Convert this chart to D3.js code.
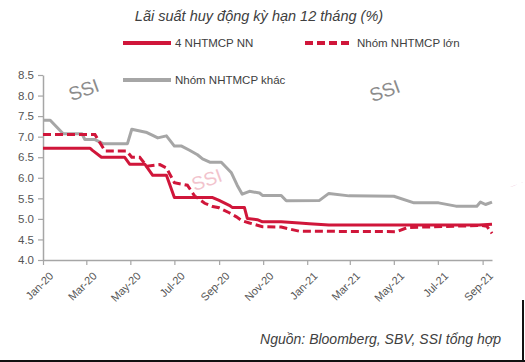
<!DOCTYPE html>
<html>
<head>
<meta charset="utf-8">
<script src="https://cdn.jsdelivr.net/npm/d3@7"></script>
<style>
  html, body { margin: 0; padding: 0; background: #fff; }
  svg { display: block; }
  text { font-family: "Liberation Sans", Arial, sans-serif; }
</style>
</head>
<body>
<script>
// ---- Data ----
const titleText = "Lãi suất huy động kỳ hạn 12 tháng (%)";
const sourceText = "Nguồn:  Bloomberg, SBV, SSI tổng hợp";
const seriesNames = ["4 NHTMCP NN", "Nhóm NHTMCP lớn", "Nhóm NHTMCP khác"];
const yTicks = [4.0, 4.5, 5.0, 5.5, 6.0, 6.5, 7.0, 7.5, 8.0, 8.5];
const xTickLabels = ["Jan-20","Mar-20","May-20","Jul-20","Sep-20","Nov-20","Jan-21","Mar-21","May-21","Jul-21","Sep-21"];
const xTickDates = ["2020-01-01","2020-03-01","2020-05-01","2020-07-01","2020-09-01","2020-11-01","2021-01-01","2021-03-01","2021-05-01","2021-07-01","2021-09-01"];

// 4 NHTMCP NN (solid red)
const nnDates  = ["2020-01-01","2020-03-06","2020-03-10","2020-03-22","2020-04-23","2020-04-30","2020-05-21","2020-06-01","2020-06-20","2020-07-01","2020-08-23","2020-09-01","2020-09-15","2020-09-19","2020-10-06","2020-10-10","2020-10-24","2020-10-31","2020-11-26","2020-12-21","2021-01-04","2021-01-31","2021-08-27","2021-09-14"];
const nnValues = [6.72, 6.72, 6.66, 6.50, 6.50, 6.33, 6.33, 6.06, 6.06, 5.52, 5.52, 5.45, 5.33, 5.28, 5.28, 5.01, 4.98, 4.93, 4.93, 4.90, 4.88, 4.85, 4.85, 4.87];

// Nhóm NHTMCP lớn (dashed red)
const lonDates  = ["2020-01-01","2020-03-13","2020-03-27","2020-04-26","2020-05-03","2020-05-14","2020-05-24","2020-06-11","2020-06-20","2020-07-01","2020-07-19","2020-07-29","2020-08-12","2020-08-23","2020-09-01","2020-09-15","2020-09-25","2020-10-02","2020-10-13","2020-10-31","2020-11-26","2020-12-21","2021-05-05","2021-05-20","2021-08-31","2021-09-07","2021-09-14"];
const lonValues = [7.05, 7.05, 6.65, 6.65, 6.50, 6.50, 6.28, 6.32, 6.24, 5.88, 5.82, 5.56, 5.38, 5.30, 5.27, 5.15, 5.05, 4.96, 4.90, 4.81, 4.80, 4.70, 4.69, 4.79, 4.84, 4.82, 4.65];

// Nhóm NHTMCP khác (gray)
const khacDates  = ["2020-01-01","2020-01-11","2020-01-29","2020-02-24","2020-02-28","2020-03-13","2020-03-24","2020-04-27","2020-05-03","2020-05-11","2020-05-24","2020-06-01","2020-06-08","2020-06-20","2020-07-01","2020-07-11","2020-07-22","2020-08-02","2020-08-09","2020-08-19","2020-09-04","2020-09-18","2020-09-26","2020-10-03","2020-10-13","2020-10-27","2020-10-31","2020-11-26","2020-12-03","2021-01-18","2021-01-31","2021-02-28","2021-05-01","2021-05-29","2021-07-02","2021-07-26","2021-08-24","2021-08-29","2021-09-05","2021-09-14"];
const khacValues = [7.40, 7.40, 7.07, 7.07, 6.93, 6.93, 6.83, 6.83, 7.18, 7.15, 7.10, 7.03, 6.97, 7.02, 6.77, 6.77, 6.67, 6.56, 6.46, 6.38, 6.38, 6.12, 5.82, 5.60, 5.67, 5.63, 5.57, 5.57, 5.44, 5.45, 5.62, 5.56, 5.55, 5.39, 5.39, 5.31, 5.31, 5.41, 5.35, 5.41];

// ---- Chart ----
const W = 525, H = 362;
const parse = d3.timeParse("%Y-%m-%d");
const svg = d3.select("body").append("svg").attr("width", W).attr("height", H);

const x = d3.scaleTime()
  .domain([parse("2020-01-01"), parse("2021-09-14")])
  .range([43, 492]);
const y = d3.scaleLinear().domain([4, 8.5]).range([260, 75]);

const axisColor = "#a6a6a6";
const labelColor = "#555555";
const red = "#d0163a";
const gray = "#a6a6a6";

// Title
svg.append("text").attr("x", 259).attr("y", 21)
  .attr("text-anchor", "middle").attr("font-style", "italic")
  .attr("font-size", 14.5).attr("fill", "#404040").text(titleText);

// Watermarks
function wm(cx, cy, color, clipId) {
  const t = svg.append("text")
    .attr("transform", `translate(${cx},${cy}) rotate(-20)`)
    .attr("text-anchor", "middle").attr("font-size", 19)
    .attr("fill", color).text("SSI");
  if (clipId) t.attr("clip-path", `url(#${clipId})`);
}
const defs = svg.append("defs");
defs.append("clipPath").attr("id", "topclip").append("rect")
  .attr("x", 0).attr("y", 300).attr("width", W).attr("height", 20);
defs.append("clipPath").attr("id", "rightclip").append("rect")
  .attr("x", 0).attr("y", 0).attr("width", 520).attr("height", H);
wm(86, 96, "#8c8c8c");
wm(387, 97, "#8c8c8c");
wm(209, 186, "#f2c4cd");
wm(510, 187, "#f2c4cd", "rightclip");
svg.append("g").attr("clip-path", "url(#topclip)").call(g => {
  g.append("text").attr("transform", "translate(85,337) rotate(-20)")
    .attr("text-anchor", "middle").attr("font-size", 19).attr("fill", "#a0a0a0").text("SSI");
  g.append("text").attr("transform", "translate(386,337) rotate(-20)")
    .attr("text-anchor", "middle").attr("font-size", 19).attr("fill", "#a0a0a0").text("SSI");
});

// Axes
const xAxis = d3.axisBottom(x)
  .tickValues(xTickDates.map(parse))
  .tickFormat((d, i) => xTickLabels[i])
  .tickSize(5).tickSizeOuter(0);
const gx = svg.append("g").attr("transform", "translate(0,260)").call(xAxis);
gx.select(".domain").attr("stroke", axisColor).attr("stroke-width", 1.5);
gx.selectAll(".tick line").attr("stroke", axisColor).attr("stroke-width", 1.2);
gx.selectAll(".tick text")
  .attr("font-size", 11).attr("fill", labelColor)
  .attr("text-anchor", "end")
  .attr("dx", 0).attr("dy", 0)
  .attr("transform", "translate(5,11) rotate(-45)");

const yAxis = d3.axisLeft(y).tickValues(yTicks).tickFormat(d3.format(".1f"))
  .tickSize(5).tickSizeOuter(0);
const gy = svg.append("g").attr("transform", "translate(43,0)").call(yAxis);
gy.select(".domain").attr("stroke", axisColor).attr("stroke-width", 1.5);
gy.selectAll(".tick line").attr("stroke", axisColor).attr("stroke-width", 1.2);
gy.selectAll(".tick text").attr("font-size", 11.5).attr("fill", labelColor).attr("x", -9);

// Lines
const line = d3.line().x(d => x(d[0])).y(d => y(d[1]));
function series(dates, values) { return dates.map((d, i) => [parse(d), values[i]]); }

svg.append("path").datum(series(khacDates, khacValues)).attr("d", line)
  .attr("fill", "none").attr("stroke", gray).attr("stroke-width", 3).attr("stroke-linejoin", "round");
svg.append("path").datum(series(lonDates, lonValues)).attr("d", line)
  .attr("fill", "none").attr("stroke", red).attr("stroke-width", 3)
  .attr("stroke-dasharray", "8,4");
svg.append("path").datum(series(nnDates, nnValues)).attr("d", line)
  .attr("fill", "none").attr("stroke", red).attr("stroke-width", 3).attr("stroke-linejoin", "round");

// Legend
const legend = [
  { name: seriesNames[0], x: 123, y: 43, color: red, dash: null },
  { name: seriesNames[1], x: 305, y: 43, color: red, dash: "8,4" },
  { name: seriesNames[2], x: 123, y: 80, color: gray, dash: null }
];
legend.forEach(l => {
  svg.append("line").attr("x1", l.x).attr("x2", l.x + 48)
    .attr("y1", l.y).attr("y2", l.y)
    .attr("stroke", l.color).attr("stroke-width", 4)
    .attr("stroke-dasharray", l.dash);
  svg.append("text").attr("x", l.x + 52).attr("y", l.y + 4)
    .attr("font-size", 11.5).attr("fill", "#404040").text(l.name);
});

// Source
svg.append("text").attr("x", 501).attr("y", 344)
  .attr("text-anchor", "end").attr("font-style", "italic")
  .attr("font-size", 14).attr("fill", "#404040").text(sourceText);

// Frame lines (bottom and lower right)
svg.append("line").attr("x1", 0).attr("x2", W).attr("y1", 361).attr("y2", 361)
  .attr("stroke", "#111").attr("stroke-width", 2);
svg.append("line").attr("x1", 523).attr("x2", 523).attr("y1", 300).attr("y2", H)
  .attr("stroke", "#111").attr("stroke-width", 2);
</script>
</body>
</html>
